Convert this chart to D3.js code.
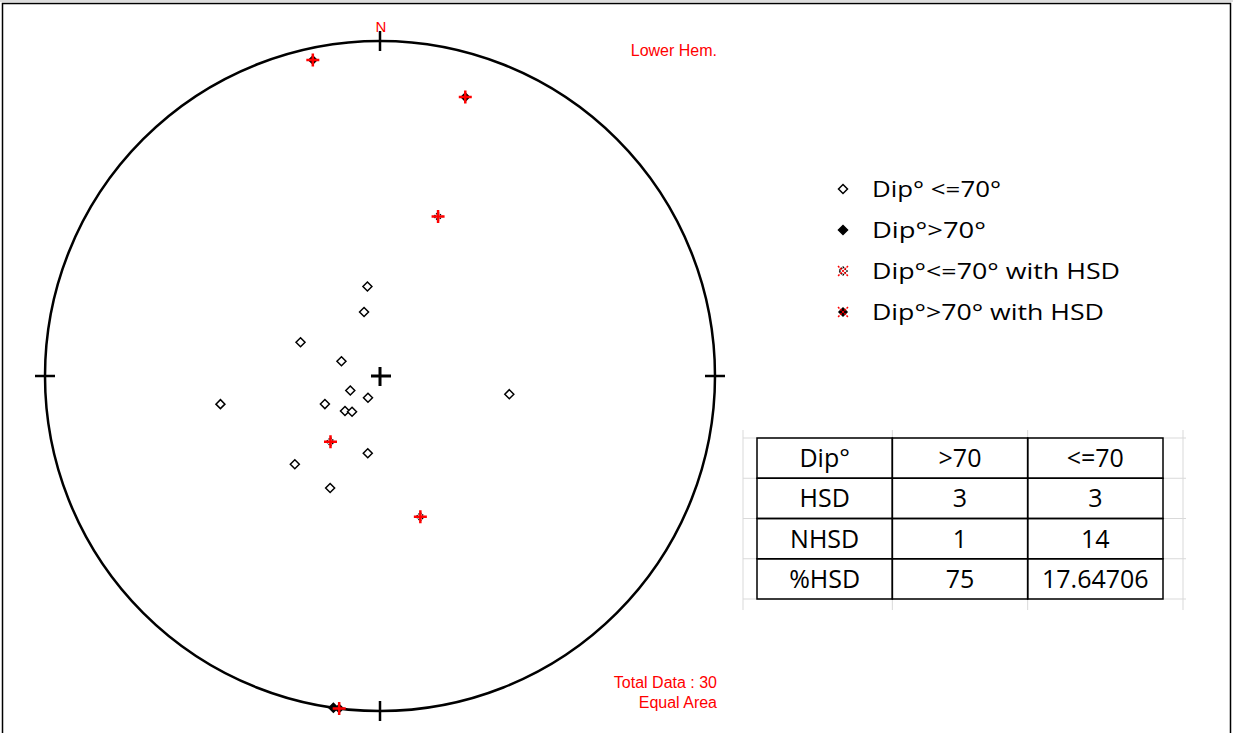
<!DOCTYPE html>
<html>
<head>
<meta charset="utf-8">
<script src="https://cdn.jsdelivr.net/npm/d3@7"></script>
<style>
  body { margin: 0; background: #fff; }
  svg { display: block; }
</style>
</head>
<body>
<script>
// poles of planes (dip direction / dip, degrees)
var nhsdDipDir = [172, 166, 113, 111, 64, 29, 80, 63, 45, 38, 278, 9, 44, 24, 8];
var nhsdDip    = [22, 16, 21, 10, 8, 6, 40, 15, 12, 11, 32, 19, 30, 30, 90];
var hsdDipDir  = [168, 197, 7, 200, 344, 37];
var hsdDip     = [86, 76, 90, 42, 36, 20];

var legendLabels = ["Dip\u00b0 <=70\u00b0", "Dip\u00b0>70\u00b0", "Dip\u00b0<=70\u00b0 with HSD", "Dip\u00b0>70\u00b0 with HSD"];
var legendKinds  = ["open", "filled", "openHsd", "filledHsd"];

var tableHeader = ["Dip\u00b0", ">70", "<=70"];
var tableRows = [
  ["HSD", "3", "3"],
  ["NHSD", "1", "14"],
  ["%HSD", "75", "17.64706"]
];
var totalData = 30;

var width = 1233, height = 733;
var cx = 380, cy = 376, R = 335;

var svg = d3.select("body").append("svg")
  .attr("width", width)
  .attr("height", height);

svg.append("rect").attr("width", width).attr("height", height).attr("fill", "#fff");

// window frame
svg.append("line").attr("x1", 0).attr("x2", width).attr("y1", 1).attr("y2", 1)
  .attr("stroke", "#bbb").attr("stroke-width", 1);
svg.append("path")
  .attr("d", "M2.5," + height + "V3.5H1230.5V" + height)
  .attr("fill", "none").attr("stroke", "#000").attr("stroke-width", 1.5);

// equal area radius scale
var rScale = d3.scaleLinear().domain([0, 1]).range([0, R]);
function pole(dd, dp) {
  var t = (dd + 180) * Math.PI / 180;
  var r = rScale(Math.SQRT2 * Math.sin(dp * Math.PI / 360));
  return [cx + r * Math.sin(t), cy - r * Math.cos(t)];
}

var net = svg.append("g");
net.append("circle")
  .attr("cx", cx).attr("cy", cy).attr("r", R)
  .attr("fill", "none").attr("stroke", "#000").attr("stroke-width", 2.5);

// N E S W ticks
[0, 90, 180, 270].forEach(function(a) {
  var t = a * Math.PI / 180;
  net.append("line")
    .attr("x1", cx + (R - 10) * Math.sin(t)).attr("y1", cy - (R - 10) * Math.cos(t))
    .attr("x2", cx + (R + 10) * Math.sin(t)).attr("y2", cy - (R + 10) * Math.cos(t))
    .attr("stroke", "#000").attr("stroke-width", 2.5);
});
// centre cross
net.append("path")
  .attr("d", "M" + (cx - 9) + "," + cy + "H" + (cx + 11) + "M" + cx + "," + (cy - 9) + "V" + (cy + 10))
  .attr("stroke", "#000").attr("stroke-width", 3);

var redFont = "16px 'Liberation Sans', Arial, sans-serif";
net.append("text").attr("x", cx + 1).attr("y", 32)
  .attr("text-anchor", "middle").attr("fill", "#ff0000")
  .style("font", "15px 'Liberation Sans', Arial, sans-serif").text("N");

svg.append("text").attr("x", 717).attr("y", 56).attr("text-anchor", "end")
  .attr("fill", "#ff0000").style("font", redFont).text("Lower Hem.");
svg.append("text").attr("x", 717).attr("y", 688).attr("text-anchor", "end")
  .attr("fill", "#ff0000").style("font", redFont).text("Total Data : " + totalData);
svg.append("text").attr("x", 717).attr("y", 708).attr("text-anchor", "end")
  .attr("fill", "#ff0000").style("font", redFont).text("Equal Area");

function diamond(s) { return "M0," + (-s) + "L" + s + ",0L0," + s + "L" + (-s) + ",0Z"; }

function drawMarker(g, kind, x, y, legend) {
  var m = g.append("g").attr("transform", "translate(" + x + "," + y + ")");
  var filled = kind == "filled" || kind == "filledHsd";
  var hsd = kind == "openHsd" || kind == "filledHsd";
  m.append("path").attr("d", diamond(hsd ? 4 : 4.5))
    .attr("fill", filled ? "#000" : "#fff")
    .attr("stroke", "#000").attr("stroke-width", 1.5)
    .attr("stroke-dasharray", hsd && !filled ? "1.5,1" : null);
  if (hsd) {
    var s = legend ? 5 : 6.5;
    var d = legend
      ? "M" + (-s) + "," + (-s) + "L" + s + "," + s + "M" + s + "," + (-s) + "L" + (-s) + "," + s
      : "M" + (-s) + ",0H" + s + "M0," + (-s) + "V" + s;
    m.append("path").attr("d", d)
      .attr("stroke", "#ff0000").attr("stroke-width", legend ? 1.5 : 2.5)
      .attr("stroke-dasharray", legend ? "2,1" : null);
  }
}

var pts = net.append("g");
nhsdDipDir.forEach(function(dd, i) {
  var p = pole(dd, nhsdDip[i]);
  drawMarker(pts, nhsdDip[i] > 70 ? "filled" : "open", p[0], p[1], false);
});
hsdDipDir.forEach(function(dd, i) {
  var p = pole(dd, hsdDip[i]);
  drawMarker(pts, hsdDip[i] > 70 ? "filledHsd" : "openHsd", p[0], p[1], false);
});

// legend
var legY = d3.scalePoint().domain(d3.range(legendLabels.length)).range([189, 312]);
var legFont = "22px 'Open Sans', 'Noto Sans', sans-serif";
var legWidths = [129, 114, 248, 232];
var legG = svg.append("g");
legendLabels.forEach(function(lab, i) {
  drawMarker(legG, legendKinds[i], 843, legY(i), true);
  legG.append("text").attr("x", 872).attr("y", legY(i) + 8)
    .attr("fill", "#000").style("font", legFont)
    .attr("textLength", legWidths[i]).attr("lengthAdjust", "spacingAndGlyphs")
    .text(lab);
});

// table
var allRows = [tableHeader].concat(tableRows);
var colX = d3.scaleBand().domain(d3.range(3)).range([757, 1163]);
var rowY = d3.scaleBand().domain(d3.range(allRows.length)).range([438, 599]);
var tg = svg.append("g");
var gridCols = [743, colX(1), colX(2), 1183];
gridCols.forEach(function(x) {
  tg.append("line").attr("x1", x).attr("x2", x).attr("y1", 430).attr("y2", 610)
    .attr("stroke", "#d9d9d9").attr("stroke-width", 1);
});
d3.range(allRows.length + 1).forEach(function(i) {
  var y = i < allRows.length ? rowY(i) : 599;
  tg.append("line").attr("x1", 743).attr("x2", 1186).attr("y1", y).attr("y2", y)
    .attr("stroke", "#d9d9d9").attr("stroke-width", 1);
});
allRows.forEach(function(row, r) {
  row.forEach(function(cell, c) {
    tg.append("rect")
      .attr("x", colX(c)).attr("y", rowY(r))
      .attr("width", colX.bandwidth()).attr("height", rowY.bandwidth())
      .attr("fill", "none").attr("stroke", "#000").attr("stroke-width", 1.5);
    tg.append("text")
      .attr("x", colX(c) + colX.bandwidth() / 2)
      .attr("y", rowY(r) + rowY.bandwidth() / 2 + 9)
      .attr("text-anchor", "middle").attr("fill", "#000")
      .style("font", "25px 'Open Sans', 'Noto Sans', sans-serif")
      .text(cell);
  });
});
</script>
</body>
</html>
